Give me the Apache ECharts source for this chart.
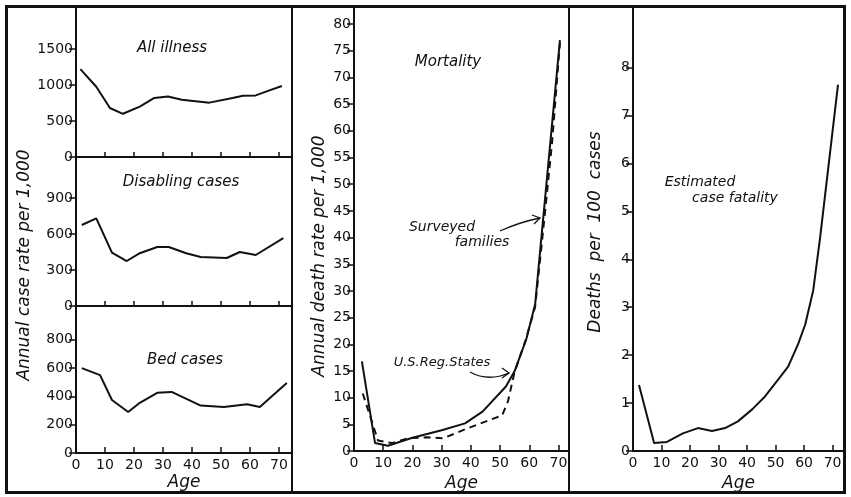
<!DOCTYPE html>
<html><head><meta charset="utf-8">
<script src="https://cdn.jsdelivr.net/npm/echarts@6/dist/echarts.min.js"></script>
<style>html,body{margin:0;padding:0;background:#fff}#c{width:851px;height:497px}</style>
</head><body><div id="c"></div>
<script>
// ---- tick labels ----
const ageTicks = [0, 10, 20, 30, 40, 50, 60, 70];
const allIllnessTicks = [0, 500, 1000, 1500];
const disablingTicks = [0, 300, 600, 900];
const bedTicks = [0, 200, 400, 600, 800];
const mortalityTicks = [0, 5, 10, 15, 20, 25, 30, 35, 40, 45, 50, 55, 60, 65, 70, 75, 80];
const fatalityTicks = [0, 1, 2, 3, 4, 5, 6, 7, 8];

// ---- series values (age, value) ----
const allIllnessAges  = [1.5, 7, 11.7, 16.2, 22, 27, 31.7, 36.5, 46, 54, 57.6, 62, 66, 71];
const allIllnessRates = [1220, 975, 680, 600, 700, 820, 840, 795, 755, 820, 850, 855, 915, 985];

const disablingAges  = [2, 7, 12.4, 17.5, 22, 28, 32, 38, 43, 52, 56.5, 62, 71.5];
const disablingRates = [675, 730, 445, 375, 440, 492, 492, 440, 408, 400, 450, 425, 565];

const bedAges  = [2, 8.3, 12.4, 18, 22, 28, 33, 43, 51, 59, 63.4, 72.7];
const bedRates = [600, 550, 375, 290, 355, 425, 432, 335, 325, 345, 325, 495];

const usRegAges  = [2.7, 7.2, 11.6, 20, 30, 38, 44, 52, 55, 59, 62, 70.5];
const usRegRates = [16.8, 1.5, 1.0, 2.5, 3.9, 5.2, 7.4, 12.1, 15, 21, 27.5, 77];

const surveyedAges  = [3, 8.2, 13, 18.5, 25, 30.5, 39, 50.7, 52.7, 55, 58.6, 62, 65.4, 67.8, 70.5];
const surveyedRates = [10.8, 2, 1.5, 2.4, 2.6, 2.4, 4.3, 6.7, 9.3, 14.9, 20.5, 27, 44.8, 57.8, 76.5];

const fatalityAges  = [2.1, 7.4, 11.9, 17.5, 22.8, 27.7, 32.3, 36.8, 41.8, 46.3, 50.9, 54.4, 57.9, 60.4, 63.2, 65.6, 71.9];
const fatalityRates = [1.38, 0.17, 0.19, 0.37, 0.48, 0.42, 0.48, 0.62, 0.87, 1.14, 1.49, 1.76, 2.23, 2.64, 3.35, 4.44, 7.64];

const zip = (a, b) => a.map((x, i) => [x, b[i]]);

const INK = '#111';
const tickFont = 'DejaVu Sans';
const handFont = 'italic 15px "DejaVu Sans"';
const plain = v => String(v);

function xAxis(gridIndex, max, showLabels, name) {
  return {
    type: 'value', gridIndex, min: 0, max, interval: 10,
    axisLine: { show: true, onZero: false, lineStyle: { color: INK, width: 2 } },
    axisTick: { show: true, inside: true, length: showLabels ? 6 : 5, customValues: ageTicks.slice(1), lineStyle: { color: INK, width: 1.5 } },
    axisLabel: { show: showLabels, customValues: ageTicks, formatter: plain, color: INK, fontFamily: tickFont, fontSize: 14, margin: 5 },
    splitLine: { show: false },
    name: name || '', nameLocation: 'middle', nameGap: 21,
    nameTextStyle: { color: INK, fontFamily: 'DejaVu Sans', fontStyle: 'italic', fontSize: 17 }
  };
}
function yAxis(gridIndex, max, ticks) {
  return {
    type: 'value', gridIndex, min: 0, max,
    axisLine: { show: true, lineStyle: { color: INK, width: 2 } },
    axisTick: { show: true, inside: false, length: 7, customValues: ticks, lineStyle: { color: INK, width: 1.5 } },
    axisLabel: { customValues: ticks, formatter: plain, color: INK, fontFamily: tickFont, fontSize: 14, margin: 3 },
    splitLine: { show: false }
  };
}
function line(idx, data, dashed) {
  return {
    type: 'line', xAxisIndex: idx, yAxisIndex: idx, data, showSymbol: false, smooth: false,
    lineStyle: { color: INK, width: 2, type: dashed ? [7, 5] : 'solid' }, silent: true
  };
}

function txt(text, x, y, size) {
  return {
    type: 'text', x, y,
    style: { text, font: 'italic ' + (size || 15) + 'px "DejaVu Sans"', fill: INK, textAlign: 'center', textVerticalAlign: 'middle' }
  };
}
function vtxt(text, x, y) {
  return {
    type: 'text', x, y, rotation: Math.PI / 2,
    style: { text, font: 'italic 17px "DejaVu Sans"', fill: INK, textAlign: 'center', textVerticalAlign: 'middle' }
  };
}

const chart = echarts.init(document.getElementById('c'), null, { renderer: 'canvas' });
chart.setOption({
  animation: false,
  backgroundColor: '#fff',
  grid: [
    { left: 76, width: 216, top: 7, height: 150 },
    { left: 76, width: 216, top: 157, height: 149 },
    { left: 76, width: 216, top: 306, height: 147 },
    { left: 354, width: 215, top: 7, height: 446 },
    { left: 633, width: 211, top: 7, height: 448 }
  ],
  xAxis: [
    xAxis(0, 74.5, false),
    xAxis(1, 74.5, false),
    xAxis(2, 74.5, true, 'Age'),
    xAxis(3, 73.6, true, 'Age'),
    xAxis(4, 74, true, 'Age')
  ],
  yAxis: [
    yAxis(0, 2083, allIllnessTicks),
    yAxis(1, 1242, disablingTicks),
    yAxis(2, 1039, bedTicks),
    yAxis(3, 83.2, mortalityTicks),
    yAxis(4, 9.26, fatalityTicks)
  ],
  series: [
    line(0, zip(allIllnessAges, allIllnessRates)),
    line(1, zip(disablingAges, disablingRates)),
    line(2, zip(bedAges, bedRates)),
    line(3, zip(usRegAges, usRegRates)),
    line(3, zip(surveyedAges, surveyedRates), true),
    line(4, zip(fatalityAges, fatalityRates))
  ],
  graphic: [
    { type: 'rect', shape: { x: 6.5, y: 6.5, width: 838, height: 486 }, style: { fill: 'none', stroke: INK, lineWidth: 3 } },
    { type: 'line', shape: { x1: 292, y1: 6, x2: 292, y2: 492 }, style: { stroke: INK, lineWidth: 2 } },
    { type: 'line', shape: { x1: 569, y1: 6, x2: 569, y2: 492 }, style: { stroke: INK, lineWidth: 2 } },
    txt('All illness', 172, 48),
    txt('Disabling cases', 181, 182),
    txt('Bed cases', 185, 360),
    txt('Mortality', 448, 62),
    txt('Surveyed', 442, 227, 14),
    txt('families', 482, 242, 14),
    txt('U.S.Reg.States', 442, 363, 13),
    txt('Estimated', 700, 182, 14),
    txt('case fatality', 735, 198, 14),
    vtxt('Annual case rate per 1,000', 25, 265),
    vtxt('Annual death rate per 1,000', 320, 256),
    vtxt('Deaths  per  100  cases', 596, 232),
    // arrows
    { type: 'bezierCurve', shape: { x1: 500, y1: 231, x2: 540, y2: 218, cpx1: 520, cpy1: 222 }, style: { stroke: INK, lineWidth: 1.3, fill: 'none' } },
    { type: 'polyline', shape: { points: [[532, 215], [540, 218], [534, 224]] }, style: { stroke: INK, lineWidth: 1.3, fill: 'none' } },
    { type: 'bezierCurve', shape: { x1: 470, y1: 372, x2: 509, y2: 373, cpx1: 488, cpy1: 382 }, style: { stroke: INK, lineWidth: 1.3, fill: 'none' } },
    { type: 'polyline', shape: { points: [[502, 368], [509, 373], [502, 378]] }, style: { stroke: INK, lineWidth: 1.3, fill: 'none' } }
  ]
});
</script>
</body></html>
